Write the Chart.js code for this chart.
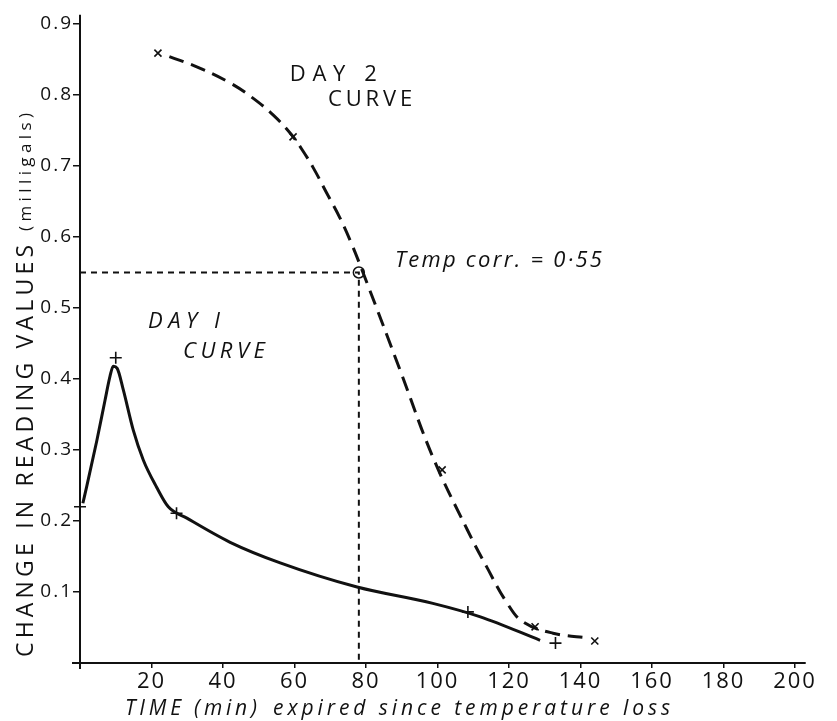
<!DOCTYPE html>
<html>
<head>
<meta charset="utf-8">
<script src="https://cdn.jsdelivr.net/npm/chart.js@4.4.1/dist/chart.umd.min.js"></script>
<style>
  html, body { margin: 0; padding: 0; background: #fff; }
  #wrap { width: 837px; height: 721px; position: relative; }
</style>
</head>
<body>
<div id="wrap"><canvas id="chart"></canvas></div>
<script>
// values
const xTicks = [20, 40, 60, 80, 100, 120, 140, 160, 180, 200];
const yTicks = [0.1, 0.2, 0.3, 0.4, 0.5, 0.6, 0.7, 0.8, 0.9];

const day1Time  = [0.8, 1.9, 4.7, 7, 8.4, 9.3, 10.4, 12.1, 14.9, 17.7, 21.4, 24.7, 29.9, 42, 56, 77.5, 98.7, 112, 128.7];
const day1Value = [0.225, 0.249, 0.313, 0.37, 0.404, 0.418, 0.415, 0.385, 0.328, 0.286, 0.248, 0.22, 0.204, 0.17, 0.141, 0.107, 0.084, 0.065, 0.032];
const day1MarkTime  = [0, 10, 27, 108.5, 133];
const day1MarkValue = [0.22, 0.43, 0.211, 0.072, 0.028];

const day2Time  = [25, 33, 42, 48, 54, 59, 62, 65.3, 69, 72.7, 76, 80.3, 89.5, 98.7, 108.3, 113.8, 119.4, 123.9, 132.3, 142.7];
const day2Value = [0.854, 0.839, 0.817, 0.797, 0.772, 0.745, 0.724, 0.697, 0.662, 0.627, 0.59, 0.535, 0.413, 0.29, 0.188, 0.135, 0.085, 0.058, 0.042, 0.035];
const day2MarkTime  = [21.8, 59.6, 101.3, 127.3, 144];
const day2MarkValue = [0.859, 0.741, 0.272, 0.051, 0.031];

const corrTime = 78;
const corrValue = 0.55;

const INK = '#111';
const FONT = '"Open Sans", "DejaVu Sans", sans-serif';

function pts(xs, ys) {
  return xs.map((x, i) => ({ x, y: ys[i] }));
}

// notes written on the sheet: anchor in data space, width in px to stretch the lettering to
const notes = [
  { text: 'DAY 2', x: 58.7, y: 0.828, size: 22, italic: false, width: 87 },
  { text: 'CURVE', x: 69.4, y: 0.793, size: 22, italic: false, width: 84 },
  { text: 'DAY I', x: 19, y: 0.48, size: 22, italic: true, width: 72 },
  { text: 'CURVE', x: 28.8, y: 0.439, size: 22, italic: true, width: 82 },
  { text: 'Temp corr. = 0·55', x: 88.1, y: 0.566, size: 22, italic: true, width: 207 }
];

// draw text stretched with letter spacing so it covers about `width` px
function spread(ctx, text, x, y, width) {
  ctx.letterSpacing = '0px';
  const w0 = ctx.measureText(text).width;
  const sp = Math.max(0, (width - w0) / Math.max(1, text.length - 1));
  ctx.letterSpacing = sp + 'px';
  ctx.fillText(text, x, y);
  ctx.letterSpacing = '0px';
}

const sketchPlugin = {
  id: 'sketch',
  beforeDraw(chart) {
    chart.ctx.letterSpacing = '2px';
  },
  afterDraw(chart) {
    const ctx = chart.ctx;
    const xs = chart.scales.x, ys = chart.scales.y;
    const x0 = xs.getPixelForValue(0), y0 = ys.getPixelForValue(0);

    ctx.save();
    ctx.letterSpacing = '0px';
    ctx.strokeStyle = INK;
    ctx.lineWidth = 2;
    ctx.beginPath();
    ctx.moveTo(x0, ys.getPixelForValue(0.913));
    ctx.lineTo(x0, y0 + 6);
    ctx.moveTo(x0 - 8, y0);
    ctx.lineTo(xs.getPixelForValue(203), y0);
    ctx.stroke();

    ctx.fillStyle = INK;
    ctx.textBaseline = 'middle';
    ctx.textAlign = 'left';
    for (const n of notes) {
      ctx.font = (n.italic ? 'italic ' : '') + n.size + 'px ' + FONT;
      spread(ctx, n.text, xs.getPixelForValue(n.x), ys.getPixelForValue(n.y), n.width);
    }

    // y axis title, rotated
    ctx.save();
    ctx.translate(26, 657);
    ctx.rotate(-Math.PI / 2);
    ctx.textBaseline = 'middle';
    ctx.font = '23px ' + FONT;
    spread(ctx, 'CHANGE IN READING VALUES', 0, 0, 412);
    ctx.font = '17px ' + FONT;
    spread(ctx, '(milligals)', 426, 0, 118);
    ctx.restore();

    // x axis title
    ctx.textBaseline = 'alphabetic';
    ctx.font = 'italic 21px ' + FONT;
    spread(ctx, 'TIME (min)', 125, 715, 132);
    spread(ctx, 'expired since temperature loss', 273, 715, 397);
    ctx.restore();
  }
};

new Chart(document.getElementById('chart'), {
  type: 'line',
  data: {
    datasets: [
      {
        label: 'Day 1 curve',
        data: pts(day1Time, day1Value),
        borderColor: INK,
        borderWidth: 3,
        pointRadius: 0,
        cubicInterpolationMode: 'monotone'
      },
      {
        label: 'Day 2 curve',
        data: pts(day2Time, day2Value),
        borderColor: INK,
        borderWidth: 3,
        borderDash: [15, 8],
        pointRadius: 0,
        tension: 0.4
      },
      {
        label: 'Temp corr guide',
        data: [{ x: 0, y: corrValue }, { x: corrTime, y: corrValue }, { x: corrTime, y: 0 }],
        borderColor: INK,
        borderWidth: 2,
        borderDash: [6, 5],
        pointRadius: 0,
        tension: 0
      },
      {
        label: 'Day 1 readings',
        data: pts(day1MarkTime, day1MarkValue),
        showLine: false,
        pointStyle: 'cross',
        pointRadius: 6,
        pointBorderWidth: 1.6,
        pointBorderColor: INK
      },
      {
        label: 'Day 2 readings',
        data: pts(day2MarkTime, day2MarkValue),
        showLine: false,
        pointStyle: 'crossRot',
        pointRadius: 5,
        pointBorderWidth: 1.6,
        pointBorderColor: INK
      },
      {
        label: 'Correction ring',
        data: [{ x: corrTime, y: corrValue }],
        showLine: false,
        pointStyle: 'circle',
        pointRadius: 5.5,
        pointBorderWidth: 1.5,
        pointBorderColor: INK,
        pointBackgroundColor: '#fff'
      },
      {
        label: 'Correction cross',
        data: [{ x: corrTime, y: corrValue }],
        showLine: false,
        pointStyle: 'crossRot',
        pointRadius: 4,
        pointBorderWidth: 1.3,
        pointBorderColor: INK
      }
    ]
  },
  options: {
    responsive: true,
    maintainAspectRatio: false,
    animation: false,
    clip: false,
    layout: { padding: { left: 0, top: 24, right: 42, bottom: 0 } },
    plugins: { legend: { display: false }, tooltip: { enabled: false } },
    scales: {
      x: {
        type: 'linear',
        min: 0,
        max: 200,
        afterFit: s => { s.height = 58; },
        afterBuildTicks: s => { s.ticks = xTicks.map(v => ({ value: v })); },
        border: { display: false },
        grid: { drawOnChartArea: false, drawTicks: true, tickLength: 5, color: INK, lineWidth: 1.5 },
        ticks: { color: INK, padding: 1, maxRotation: 0, font: { family: FONT, size: 22 } }
      },
      y: {
        type: 'linear',
        min: 0,
        max: 0.9,
        afterFit: s => { s.width = 80; },
        afterBuildTicks: s => { s.ticks = yTicks.map(v => ({ value: v })); },
        border: { display: false },
        grid: { drawOnChartArea: false, drawTicks: true, tickLength: 7, color: INK, lineWidth: 1.5 },
        ticks: { color: INK, padding: 0, font: { family: FONT, size: 19 }, callback: v => Number(v).toFixed(1) }
      }
    }
  },
  plugins: [sketchPlugin]
});
</script>
</body>
</html>
